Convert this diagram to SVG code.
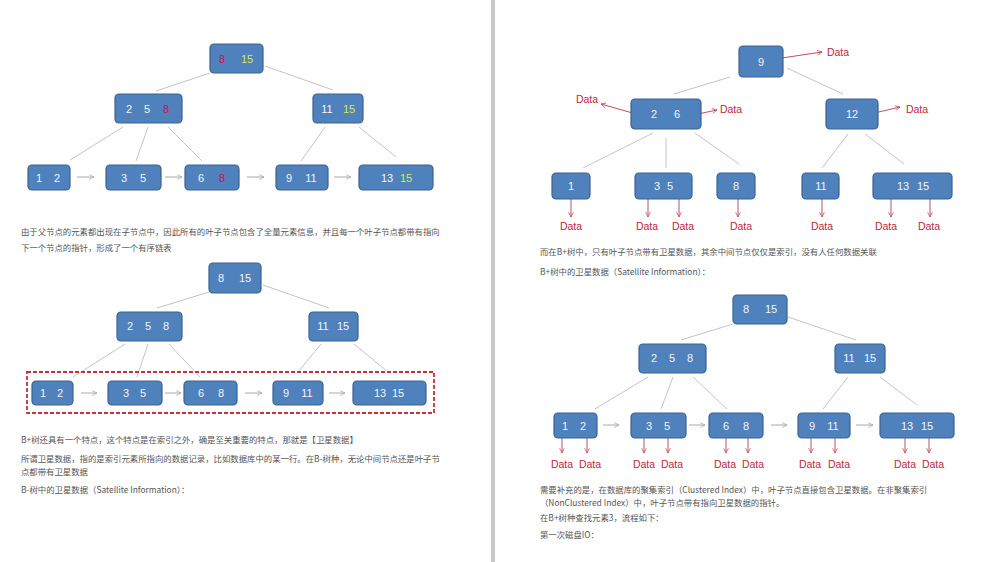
<svg xmlns="http://www.w3.org/2000/svg" width="988" height="562" viewBox="0 0 988 562">
<defs>
<style>
.n{fill:#4f81bd;stroke:#3a6290;stroke-width:1.2}
.t{font-family:"Liberation Sans",Arial,sans-serif;font-size:11px;fill:#f2f5fa;text-anchor:middle}
.r{fill:#c8174a}
.y{fill:#d6ea4a}
.e{stroke:#c4c4c4;stroke-width:1;fill:none}
.a{stroke:#a8a8a8;stroke-width:1;fill:none;marker-end:url(#ag)}
.d{stroke:#c0505e;stroke-width:1;fill:none;marker-end:url(#ar)}
.dl{font-family:"Liberation Sans",Arial,sans-serif;font-size:10.5px;fill:#c02840;text-anchor:middle}
.p{font-family:"Noto Sans CJK SC","Noto Sans",sans-serif;font-size:8.4px;fill:#555}
</style>
<marker id="ag" viewBox="0 0 10 10" refX="9" refY="5" markerWidth="6" markerHeight="6" orient="auto" markerUnits="userSpaceOnUse"><path d="M1,1 L9,5 L1,9" fill="none" stroke="#a8a8a8" stroke-width="1.3"/></marker>
<marker id="ar" viewBox="0 0 10 10" refX="9" refY="5" markerWidth="6" markerHeight="6" orient="auto" markerUnits="userSpaceOnUse"><path d="M1,1 L9,5 L1,9" fill="none" stroke="#c0505e" stroke-width="1.3"/></marker>
</defs>
<rect width="988" height="562" fill="#fff"/>
<rect x="491" y="0" width="4" height="562" fill="#c8c8c8"/>

<g id="connectors">
<!-- tree 1 -->
<line class="e" x1="210" y1="73" x2="156" y2="91"/>
<line class="e" x1="265" y1="66" x2="333" y2="90"/>
<line class="e" x1="123" y1="127" x2="70" y2="160"/>
<line class="e" x1="148" y1="127" x2="136" y2="161"/>
<line class="e" x1="168" y1="127" x2="202" y2="161"/>
<line class="e" x1="325" y1="127" x2="301" y2="161"/>
<line class="e" x1="359" y1="127" x2="396" y2="157"/>
<line class="a" x1="77" y1="177" x2="94" y2="177"/>
<line class="a" x1="165" y1="177" x2="182" y2="177"/>
<line class="a" x1="247" y1="177" x2="264" y2="177"/>
<line class="a" x1="334" y1="177" x2="351" y2="177"/>
<!-- tree 2 -->
<line class="e" x1="209" y1="292" x2="157" y2="308"/>
<line class="e" x1="263" y1="285" x2="329" y2="308"/>
<line class="e" x1="125" y1="344" x2="73" y2="377"/>
<line class="e" x1="148" y1="344" x2="137" y2="377"/>
<line class="e" x1="169" y1="344" x2="200" y2="377"/>
<line class="e" x1="321" y1="344" x2="298" y2="372"/>
<line class="e" x1="354" y1="344" x2="388" y2="372"/>
<line class="a" x1="81" y1="393" x2="97" y2="393"/>
<line class="a" x1="165" y1="393" x2="181" y2="393"/>
<line class="a" x1="245" y1="393" x2="262" y2="393"/>
<line class="a" x1="329" y1="393" x2="345" y2="393"/>
<!-- tree 3 -->
<line class="e" x1="730" y1="77" x2="674" y2="94"/>
<line class="e" x1="787" y1="68" x2="843" y2="94"/>
<line class="e" x1="653" y1="133" x2="583" y2="168"/>
<line class="e" x1="666" y1="138" x2="666" y2="168"/>
<line class="e" x1="695" y1="133" x2="739" y2="164"/>
<line class="e" x1="848" y1="134" x2="822" y2="168"/>
<line class="e" x1="865" y1="134" x2="904" y2="164"/>
<line class="d" x1="775" y1="59" x2="822" y2="52"/>
<line class="d" x1="643" y1="116" x2="601" y2="104"/>
<line class="d" x1="688" y1="116" x2="717" y2="110"/>
<line class="d" x1="870" y1="114" x2="900" y2="107"/>
<line class="d" x1="571" y1="195" x2="571" y2="217"/>
<line class="d" x1="648" y1="195" x2="648" y2="217"/>
<line class="d" x1="679" y1="195" x2="679" y2="217"/>
<line class="d" x1="738" y1="195" x2="738" y2="217"/>
<line class="d" x1="822" y1="195" x2="822" y2="217"/>
<line class="d" x1="891" y1="195" x2="891" y2="217"/>
<line class="d" x1="930" y1="195" x2="930" y2="217"/>
<!-- tree 4 -->
<line class="e" x1="733" y1="324" x2="681" y2="340"/>
<line class="e" x1="788" y1="317" x2="856" y2="340"/>
<line class="e" x1="648" y1="377" x2="595" y2="409"/>
<line class="e" x1="673" y1="377" x2="661" y2="409"/>
<line class="e" x1="693" y1="377" x2="727" y2="409"/>
<line class="e" x1="848" y1="377" x2="823" y2="409"/>
<line class="e" x1="880" y1="377" x2="917" y2="405"/>
<line class="a" x1="603" y1="425" x2="619" y2="425"/>
<line class="a" x1="689" y1="425" x2="705" y2="425"/>
<line class="a" x1="771" y1="425" x2="787" y2="425"/>
<line class="a" x1="856" y1="425" x2="873" y2="425"/>
<line class="d" x1="562" y1="435" x2="562" y2="453"/>
<line class="d" x1="587" y1="435" x2="587" y2="453"/>
<line class="d" x1="644" y1="435" x2="644" y2="453"/>
<line class="d" x1="668" y1="435" x2="668" y2="453"/>
<line class="d" x1="726" y1="435" x2="726" y2="453"/>
<line class="d" x1="748" y1="435" x2="748" y2="453"/>
<line class="d" x1="811" y1="435" x2="811" y2="453"/>
<line class="d" x1="835" y1="435" x2="835" y2="453"/>
<line class="d" x1="905" y1="435" x2="905" y2="453"/>
<line class="d" x1="929" y1="435" x2="929" y2="453"/>
</g>

<!-- Tree 1 -->
<g id="t1-root"><rect class="n" x="210" y="44" width="53" height="29" rx="4"/><text class="t" y="63"><tspan class="r" x="222">8</tspan><tspan class="y" x="247">15</tspan></text></g>
<g id="t1-l"><rect class="n" x="115" y="94" width="67" height="29" rx="4"/><text class="t" y="113"><tspan x="129">2</tspan><tspan x="147">5</tspan><tspan class="r" x="166">8</tspan></text></g>
<g id="t1-r"><rect class="n" x="313" y="94" width="50" height="29" rx="4"/><text class="t" y="113"><tspan x="327">11</tspan><tspan class="y" x="349">15</tspan></text></g>
<g id="t1-a"><rect class="n" x="28" y="165" width="42" height="25" rx="4"/><text class="t" y="182"><tspan x="39">1</tspan><tspan x="57">2</tspan></text></g>
<g id="t1-b"><rect class="n" x="106" y="165" width="55" height="25" rx="4"/><text class="t" y="182"><tspan x="124">3</tspan><tspan x="143">5</tspan></text></g>
<g id="t1-c"><rect class="n" x="185" y="165" width="54" height="25" rx="4"/><text class="t" y="182"><tspan x="201">6</tspan><tspan class="r" x="222">8</tspan></text></g>
<g id="t1-d"><rect class="n" x="276" y="165" width="52" height="25" rx="4"/><text class="t" y="182"><tspan x="289">9</tspan><tspan x="311">11</tspan></text></g>
<g id="t1-e"><rect class="n" x="359" y="165" width="74" height="25" rx="4"/><text class="t" y="182"><tspan x="387">13</tspan><tspan class="y" x="406">15</tspan></text></g>

<text class="p" x="21" y="235">由于父节点的元素都出现在子节点中，因此所有的叶子节点包含了全量元素信息，并且每一个叶子节点都带有指向</text>
<text class="p" x="21" y="251">下一个节点的指针，形成了一个有序链表</text>

<!-- Tree 2 -->
<g id="t2-root"><rect class="n" x="209" y="263" width="52" height="30" rx="4"/><text class="t" y="282"><tspan x="221">8</tspan><tspan x="245">15</tspan></text></g>
<g id="t2-l"><rect class="n" x="117" y="312" width="65" height="29" rx="4"/><text class="t" y="330"><tspan x="130">2</tspan><tspan x="148">5</tspan><tspan x="166">8</tspan></text></g>
<g id="t2-r"><rect class="n" x="309" y="312" width="49" height="29" rx="4"/><text class="t" y="330"><tspan x="323">11</tspan><tspan x="343">15</tspan></text></g>
<g id="t2-box"><rect x="27" y="372" width="407" height="41" fill="none" stroke="#c8303c" stroke-width="1.8" stroke-dasharray="4 2"/></g>
<g id="t2-a"><rect class="n" x="32" y="381" width="41" height="24" rx="4"/><text class="t" y="397"><tspan x="43">1</tspan><tspan x="60">2</tspan></text></g>
<g id="t2-b"><rect class="n" x="108" y="381" width="54" height="24" rx="4"/><text class="t" y="397"><tspan x="126">3</tspan><tspan x="143">5</tspan></text></g>
<g id="t2-c"><rect class="n" x="184" y="381" width="53" height="24" rx="4"/><text class="t" y="397"><tspan x="201">6</tspan><tspan x="221">8</tspan></text></g>
<g id="t2-d"><rect class="n" x="273" y="381" width="50" height="24" rx="4"/><text class="t" y="397"><tspan x="286">9</tspan><tspan x="307">11</tspan></text></g>
<g id="t2-e"><rect class="n" x="353" y="381" width="73" height="24" rx="4"/><text class="t" y="397"><tspan x="380">13</tspan><tspan x="398">15</tspan></text></g>

<text class="p" x="21" y="443">B+树还具有一个特点，这个特点是在索引之外，确是至关重要的特点，那就是【卫星数据】</text>
<text class="p" x="21" y="462">所谓卫星数据，指的是索引元素所指向的数据记录，比如数据库中的某一行。在B-树种，无论中间节点还是叶子节</text>
<text class="p" x="21" y="475">点都带有卫星数据</text>
<text class="p" x="21" y="493">B-树中的卫星数据（Satellite Information）：</text>

<!-- Tree 3 -->
<g id="t3-root"><rect class="n" x="739" y="46" width="44" height="31" rx="4"/><text class="t" x="761" y="66">9</text></g>
<g id="t3-l"><rect class="n" x="631" y="99" width="70" height="30" rx="4"/><text class="t" y="118"><tspan x="654">2</tspan><tspan x="677">6</tspan></text></g>
<g id="t3-r"><rect class="n" x="826" y="99" width="52" height="30" rx="4"/><text class="t" x="852" y="118">12</text></g>
<g id="t3-a"><rect class="n" x="552" y="173" width="38" height="26" rx="4"/><text class="t" x="571" y="190">1</text></g>
<g id="t3-b"><rect class="n" x="635" y="173" width="57" height="26" rx="4"/><text class="t" y="190"><tspan x="657">3</tspan><tspan x="670">5</tspan></text></g>
<g id="t3-c"><rect class="n" x="717" y="173" width="38" height="26" rx="4"/><text class="t" x="736" y="190">8</text></g>
<g id="t3-d"><rect class="n" x="802" y="173" width="37" height="26" rx="4"/><text class="t" x="821" y="190">11</text></g>
<g id="t3-e"><rect class="n" x="873" y="173" width="79" height="26" rx="4"/><text class="t" y="190"><tspan x="903">13</tspan><tspan x="923">15</tspan></text></g>
<g id="t3-data">
<text class="dl" x="838" y="56">Data</text>
<text class="dl" x="587" y="103">Data</text>
<text class="dl" x="731" y="113">Data</text>
<text class="dl" x="917" y="113">Data</text>
<text class="dl" x="571" y="230">Data</text>
<text class="dl" x="647" y="230">Data</text>
<text class="dl" x="683" y="230">Data</text>
<text class="dl" x="741" y="230">Data</text>
<text class="dl" x="822" y="230">Data</text>
<text class="dl" x="886" y="230">Data</text>
<text class="dl" x="929" y="230">Data</text>
</g>

<text class="p" x="540" y="255">而在B+树中，只有叶子节点带有卫星数据，其余中间节点仅仅是索引，没有人任何数据关联</text>
<text class="p" x="540" y="275">B+树中的卫星数据（Satellite Information）：</text>

<!-- Tree 4 -->
<g id="t4-root"><rect class="n" x="733" y="295" width="54" height="29" rx="4"/><text class="t" y="313"><tspan x="746">8</tspan><tspan x="771">15</tspan></text></g>
<g id="t4-l"><rect class="n" x="639" y="344" width="67" height="29" rx="4"/><text class="t" y="362"><tspan x="654">2</tspan><tspan x="672">5</tspan><tspan x="690">8</tspan></text></g>
<g id="t4-r"><rect class="n" x="835" y="344" width="50" height="29" rx="4"/><text class="t" y="362"><tspan x="849">11</tspan><tspan x="870">15</tspan></text></g>
<g id="t4-a"><rect class="n" x="554" y="413" width="43" height="25" rx="4"/><text class="t" y="430"><tspan x="565">1</tspan><tspan x="583">2</tspan></text></g>
<g id="t4-b"><rect class="n" x="631" y="413" width="55" height="25" rx="4"/><text class="t" y="430"><tspan x="649">3</tspan><tspan x="667">5</tspan></text></g>
<g id="t4-c"><rect class="n" x="709" y="413" width="54" height="25" rx="4"/><text class="t" y="430"><tspan x="726">6</tspan><tspan x="746">8</tspan></text></g>
<g id="t4-d"><rect class="n" x="798" y="413" width="52" height="25" rx="4"/><text class="t" y="430"><tspan x="812">9</tspan><tspan x="833">11</tspan></text></g>
<g id="t4-e"><rect class="n" x="880" y="413" width="74" height="25" rx="4"/><text class="t" y="430"><tspan x="907">13</tspan><tspan x="927">15</tspan></text></g>
<g id="t4-data">
<text class="dl" x="562" y="468">Data</text>
<text class="dl" x="590" y="468">Data</text>
<text class="dl" x="644" y="468">Data</text>
<text class="dl" x="672" y="468">Data</text>
<text class="dl" x="725" y="468">Data</text>
<text class="dl" x="753" y="468">Data</text>
<text class="dl" x="810" y="468">Data</text>
<text class="dl" x="839" y="468">Data</text>
<text class="dl" x="905" y="468">Data</text>
<text class="dl" x="933" y="468">Data</text>
</g>

<text class="p" x="540" y="493">需要补充的是，在数据库的聚集索引（Clustered Index）中，叶子节点直接包含卫星数据。在非聚集索引</text>
<text class="p" x="540" y="506">（NonClustered Index）中，叶子节点带有指向卫星数据的指针。</text>
<text class="p" x="540" y="521">在B+树种查找元素3，流程如下：</text>
<text class="p" x="540" y="538">第一次磁盘IO：</text>
</svg>
